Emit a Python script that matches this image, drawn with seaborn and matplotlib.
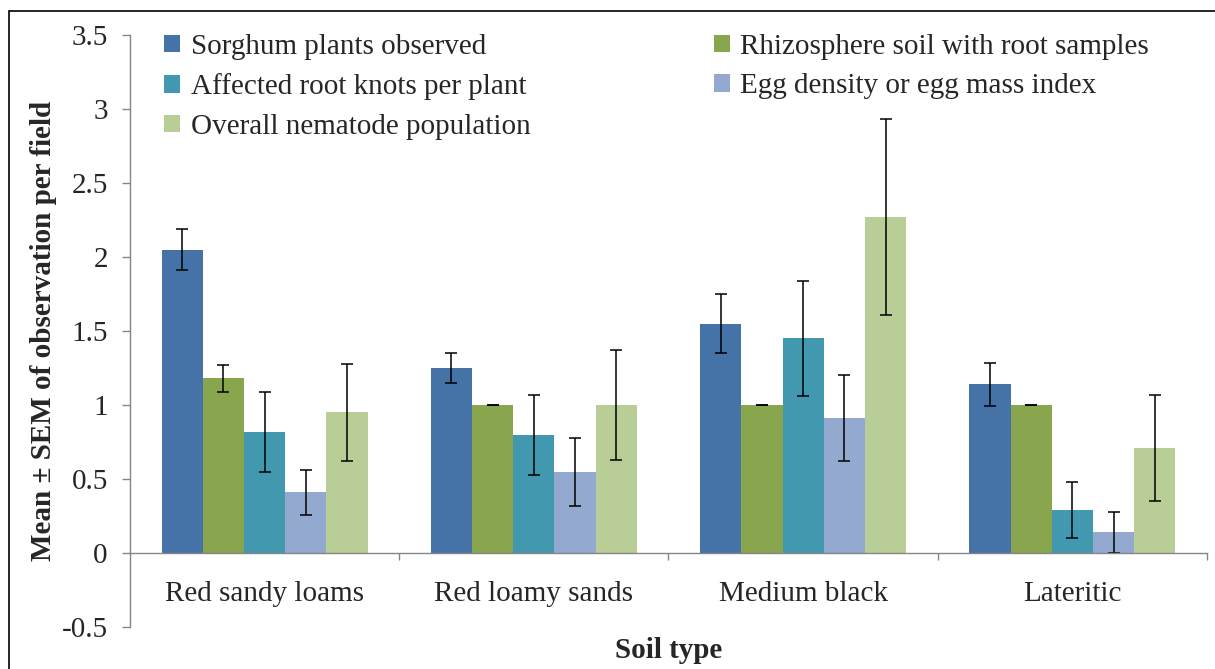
import seaborn as sns
import matplotlib.pyplot as plt
import matplotlib.ticker as mticker
from matplotlib.patches import Rectangle
import pandas as pd

# --- chart values ---
soil_types = ["Red sandy loams", "Red loamy sands", "Medium black", "Lateritic"]
series = ["Sorghum plants observed", "Rhizosphere soil with root samples",
          "Affected root knots per plant", "Egg density or egg mass index",
          "Overall nematode population"]

sorghum = [2.05, 1.25, 1.55, 1.14]
sorghum_sem = [0.14, 0.10, 0.20, 0.145]
rhizo = [1.18, 1.00, 1.00, 1.00]
rhizo_sem = [0.09, 0.0, 0.0, 0.0]
knots = [0.82, 0.80, 1.45, 0.29]
knots_sem = [0.27, 0.27, 0.39, 0.19]
eggs = [0.41, 0.55, 0.91, 0.14]
eggs_sem = [0.15, 0.23, 0.29, 0.14]
overall = [0.95, 1.00, 2.27, 0.71]
overall_sem = [0.33, 0.37, 0.66, 0.36]

means = [sorghum, rhizo, knots, eggs, overall]
sems = [sorghum_sem, rhizo_sem, knots_sem, eggs_sem, overall_sem]
colors = ["#4572A7", "#89A54E", "#4198AF", "#93A9CF", "#B9CD96"]

rows = []
for name, m, s in zip(series, means, sems):
    for soil, v, e in zip(soil_types, m, s):
        rows.append([soil, name, v, e])
df = pd.DataFrame(rows, columns=["Soil", "Series", "Mean", "SEM"])

# --- plot ---
sns.set_style("white")
plt.rcParams["font.family"] = ["Liberation Serif", "DejaVu Serif"]
fs = 21

fig = plt.figure(figsize=(12.15, 6.69), dpi=100)
ax = fig.add_axes([0.107, 0.0628, 0.8864, 0.8849])

sns.barplot(data=df, x="Soil", y="Mean", hue="Series", order=soil_types,
            hue_order=series, palette=colors, width=0.765, errorbar=None,
            linewidth=0, saturation=1, ax=ax)

for cont, name in zip(ax.containers, series):
    sub = df[df["Series"] == name].set_index("Soil").loc[soil_types]
    xs = [b.get_x() + b.get_width() / 2 for b in cont]
    ax.errorbar(xs, sub["Mean"], yerr=sub["SEM"], fmt="none", ecolor="black",
                elinewidth=1.1, capsize=4.5, capthick=1.1)

ax.set_xlim(-0.5, 3.5)
ax.set_ylim(-0.5, 3.5)
ax.set_yticks([-0.5, 0, 0.5, 1, 1.5, 2, 2.5, 3, 3.5])
ax.yaxis.set_major_formatter(mticker.FormatStrFormatter("%g"))
ax.xaxis.set_minor_locator(mticker.FixedLocator([0.5, 1.5, 2.5, 3.5]))

grey = "#868686"
for side in ["top", "right"]:
    ax.spines[side].set_visible(False)
ax.spines["left"].set_color(grey)
ax.spines["bottom"].set_color(grey)
ax.spines["bottom"].set_position(("data", 0))
ax.spines["left"].set_linewidth(1.0)
ax.spines["bottom"].set_linewidth(1.0)

ax.tick_params(axis="y", direction="out", length=6, width=1, color=grey,
               labelsize=fs, pad=10, left=True)
ax.tick_params(axis="x", which="major", length=0, labelsize=fs, pad=20)
ax.tick_params(axis="x", which="minor", direction="out", length=5, width=1,
               color=grey, bottom=True)

ax.set_xlabel("Soil type", fontsize=fs, fontweight="bold")
ax.xaxis.label.set_va("center")
ax.xaxis.set_label_coords(0.5, -0.04)
ax.set_ylabel("Mean ± SEM of observation per field", fontsize=fs,
              fontweight="bold", labelpad=3)

handles, labels = ax.get_legend_handles_labels()
order = [0, 2, 4, 1, 3]
ax.legend([handles[i] for i in order], [labels[i] for i in order], ncol=2,
          loc="upper left", bbox_to_anchor=(0.021, 1.022), frameon=False,
          fontsize=fs, handlelength=0.55, handleheight=0.55, handletextpad=0.35,
          columnspacing=6.3, labelspacing=0.47, borderaxespad=0)

fig.patches.append(Rectangle((9 / 1215, -0.05), 1.2, 1.05 - 11 / 669,
                             transform=fig.transFigure, fill=False,
                             edgecolor="black", linewidth=1.2))

plt.savefig("out.png", dpi=100)
